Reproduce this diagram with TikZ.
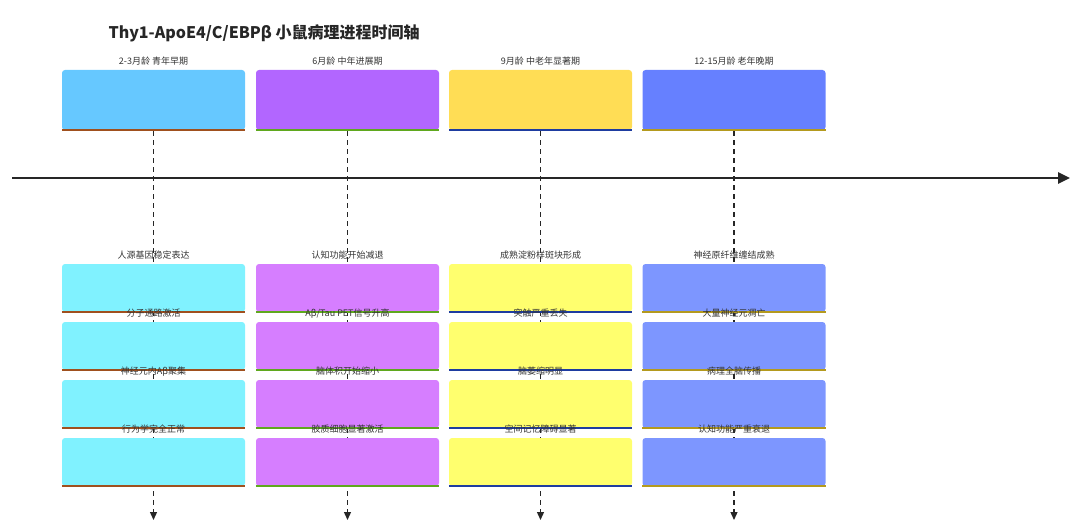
\documentclass[tikz,border=0pt]{standalone}
\usepackage{fontspec}
\setmainfont{Noto Sans CJK SC}
\usetikzlibrary{arrows.meta}
\definecolor{hc1}{HTML}{66C8FF}\definecolor{ecc1}{HTML}{80F2FF}\definecolor{bc1}{HTML}{A0501E}
\definecolor{hc2}{HTML}{B266FF}\definecolor{ecc2}{HTML}{D67EFF}\definecolor{bc2}{HTML}{5FA81E}
\definecolor{hc3}{HTML}{FFDD55}\definecolor{ecc3}{HTML}{FFFF6E}\definecolor{bc3}{HTML}{1E3CA0}
\definecolor{hc4}{HTML}{6680FF}\definecolor{ecc4}{HTML}{7D96FF}\definecolor{bc4}{HTML}{B49A1E}
\begin{document}
\begin{tikzpicture}[x=1pt,y=-1pt,
  box/.style={minimum width=183pt,rounded corners=3pt,inner sep=0pt,draw=none},
  hdr/.style={box,minimum height=60pt},
  ev/.style={box,minimum height=48pt},
  txt/.style={font=\fontsize{9}{10}\selectfont,text=black!80,anchor=north,inner sep=0pt},
  vdash/.style={line width=1.3pt,draw=black!85,dash pattern=on 5pt off 4pt},
  bord/.style={line width=2.5pt}]
\useasboundingbox (0,0) rectangle (1080,527);
\node[anchor=west,font=\bfseries\fontsize{16}{18}\selectfont,text=black!85] (title) at (105,33) {Thy1-ApoE4/C/EBPβ 小鼠病理进程时间轴};
\coordinate (tl) at (12,178); \coordinate (tr) at (1070,178);
\draw[line width=2.5pt,black!85,-{Triangle[length=12pt,width=11pt]}] (tl) -- (tr);
\foreach \i/\x in {1/153.5,2/347.5,3/540.5,4/734}{
  \coordinate (end\i) at (\x,520);
  \coordinate (s\i) at (\x,131);
  \draw[vdash,-{Triangle[length=8pt,width=7pt]}] (s\i) -- (end\i);
}
\foreach \i/\x/\hd in {1/153.5/2-3月龄 青年早期,2/347.5/6月龄 中年进展期,3/540.5/9月龄 中老年显著期,4/734/12-15月龄 老年晚期}{
  \node[hdr,fill=hc\i] (h\i) at (\x,100) {};
  \draw[bord,draw=bc\i] (h\i.south west) -- (h\i.south east);
  \node[txt] (ht\i) at ([yshift=13pt]h\i.north) {\hd};
}
\foreach \i/\x/\ta/\tb/\tc/\td in {
 1/153.5/人源基因稳定表达/分子通路激活/神经元内Aβ聚集/行为学完全正常,
 2/347.5/认知功能开始减退/Aβ\slash Tau PET信号升高/脑体积开始缩小/胶质细胞显著激活,
 3/540.5/成熟淀粉样斑块形成/突触严重丢失/脑萎缩明显/空间记忆障碍显著,
 4/734/神经原纤维缠结成熟/大量神经元凋亡/病理全脑传播/认知功能严重衰退}{
  \foreach \j/\y/\tx in {1/288/\ta,2/346/\tb,3/404/\tc,4/462/\td}{
    \node[ev,fill=ecc\i] (e\i\j) at (\x,\y) {};
    \draw[bord,draw=bc\i] (e\i\j.south west) -- (e\i\j.south east);
    \node[txt] (et\i\j) at ([yshift=13pt]e\i\j.north) {\tx};
  }
}
\end{tikzpicture}
\end{document}
